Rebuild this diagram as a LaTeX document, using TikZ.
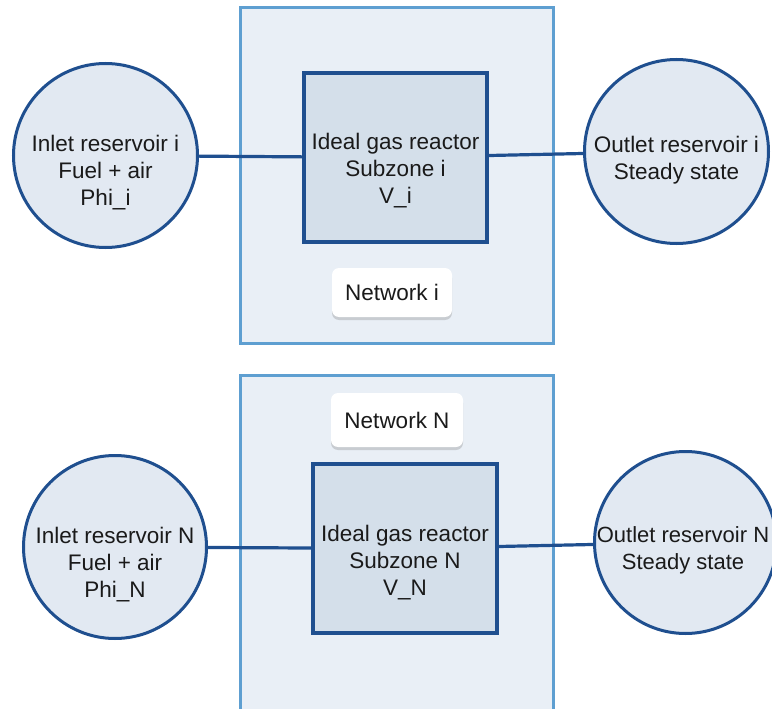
\documentclass[tikz,border=0pt]{standalone}
\usepackage{fontspec}
\setmainfont{Liberation Sans}
\usetikzlibrary{shadows}
\definecolor{netfill}{HTML}{E9EFF6}
\definecolor{netline}{HTML}{5E9FD1}
\definecolor{dkblue}{HTML}{1F4F8F}
\definecolor{reacfill}{HTML}{D4DFEA}
\definecolor{resfill}{HTML}{E2E9F2}
\definecolor{txtcol}{HTML}{1A1A1A}
\begin{document}
\begin{tikzpicture}[x=1pt,y=-1pt,
  network/.style={draw=netline, fill=netfill, line width=3pt, inner sep=0pt, minimum width=313pt},
  reactor/.style={draw=dkblue, fill=reacfill, line width=3.5pt, inner sep=0pt, minimum height=169pt},
  reservoir/.style={circle, draw=dkblue, fill=resfill, line width=3pt, inner sep=0pt},
  txt/.style={align=center, inner sep=0pt, text=txtcol, font=\fontsize{22.5}{27}\selectfont},
  tag/.style={fill=white, rounded corners=7pt, inner sep=0pt, text=txtcol,
    font=\fontsize{22.5}{27}\selectfont,
    drop shadow={shadow xshift=0pt, shadow yshift=-3pt, opacity=0.25, fill=black!60}},
  link/.style={draw=dkblue, line width=3.2pt}]
\clip (0,0) rectangle (772,709);
\useasboundingbox (0,0) rectangle (772,709);
\fill[white] (0,0) rectangle (772,709);

% ---- network i ----
\node[network, minimum height=335pt] (net1) at (396.5,175.5) {};
\node[reactor, minimum width=183pt] (rea1) at (395.5,157.5) {};
\node[reservoir, minimum size=184pt] (inl1) at (105.5,155.5) {};
\node[reservoir, minimum size=184pt] (out1) at (676.5,151.5) {};
\node[tag, minimum width=120pt, minimum height=49pt] (tag1) at (392,292.5) {Network i};
\node[txt] (rea1t) at (395.5,170.5) {Ideal gas reactor\\Subzone i\\V\_i};
\node[txt] (inl1t) at (105.5,173) {Inlet reservoir i\\Fuel + air\\Phi\_i};
\node[txt] (out1t) at (676.5,160.5) {Outlet reservoir i\\Steady state};
\draw[link] (inl1) -- (rea1);
\draw[link] (rea1) -- (out1);

% ---- network N ----
\node[network, minimum height=345pt] (net2) at (396.5,547.5) {};
\node[reactor, minimum width=184pt] (rea2) at (405,548.5) {};
\node[reservoir, minimum size=183pt] (inl2) at (115,547) {};
\node[reservoir, minimum size=182pt] (out2) at (685.5,542.5) {};
\node[tag, minimum width=132pt, minimum height=54pt] (tag2) at (397,420) {Network N};
\node[txt] (rea2t) at (405,562.5) {Ideal gas reactor\\Subzone N\\V\_N};
\node[txt] (inl2t) at (115,564.5) {Inlet reservoir N\\Fuel + air\\Phi\_N};
\node[txt, font=\fontsize{22}{27}\selectfont] (out2t) at (683,550.5) {Outlet reservoir N\\Steady state};
\draw[link] (inl2) -- (rea2);
\draw[link] (rea2) -- (out2);
\end{tikzpicture}
\end{document}
